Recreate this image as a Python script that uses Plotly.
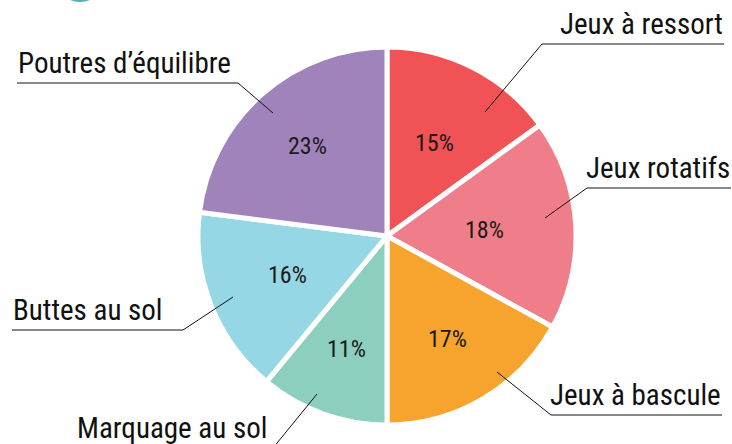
import math
import plotly.graph_objects as go

W, H = 732, 444

categories = ["Jeux à ressort", "Jeux rotatifs", "Jeux à bascule",
              "Marquage au sol", "Buttes au sol", "Poutres d’équilibre"]
values = [15, 18, 17, 11, 16, 23]
colors = ["#F05255", "#F07E8A", "#F6A42D", "#8DCFBE", "#95D7E5", "#A183BC"]

FONT = "Roboto Condensed, Liberation Sans Narrow, sans-serif"

def px(x, y):
    return x / W, 1 - y / H

cx, cy, R = 387, 236, 187
r_dom = R + 2

fig = go.Figure(go.Pie(
    labels=categories, values=values, sort=False, direction="clockwise",
    rotation=0, marker=dict(colors=colors, line=dict(color="white", width=5)),
    textinfo="none",
    domain=dict(x=[(cx - r_dom) / W, (cx + r_dom) / W],
                y=[(H - cy - r_dom) / H, (H - cy + r_dom) / H]),
    showlegend=False, hoverinfo="label+percent",
))

# percentage labels placed at each slice's mid-angle (computed from the data)
text_radius = [0.56, 0.52, 0.64, 0.64, 0.57, 0.64]
total = sum(values)
annotations = []
cum = 0
for v, tr in zip(values, text_radius):
    mid = (cum + v / 2) / total * 2 * math.pi
    cum += v
    x = cx + tr * R * math.sin(mid)
    y = cy - tr * R * math.cos(mid)
    p = px(x, y)
    annotations.append(dict(text=f"{round(v / total * 100)}%", xref="paper", yref="paper",
                            x=p[0], y=p[1], xanchor="center", yanchor="middle",
                            showarrow=False,
                            font=dict(family=FONT, size=24, color="#1a1a1a")))

# label layout: (text, side, underline y, underline x0, x1, leader end x, y)
label_layout = [
    ("Jeux à ressort", "right", 44, 542, 724, 485, 112),
    ("Jeux rotatifs", "right", 188, 587, 731, 545, 218),
    ("Jeux à bascule", "right", 415, 551, 722, 497, 372),
    ("Marquage au sol", "left", 448, 76, 273, 317, 394),
    ("Buttes au sol", "left", 330, 12, 183, 233, 297),
    ("Poutres d’équilibre", "left", 83, 17, 238, 273, 113),
]

shapes = []
for text, side, uy, x0, x1, lx, ly in label_layout:
    a = px(x0, uy)
    b = px(x1, uy)
    shapes.append(dict(type="line", xref="paper", yref="paper",
                       x0=a[0], y0=a[1], x1=b[0], y1=b[1],
                       line=dict(color="#111", width=1)))
    knee = x0 if side == "right" else x1
    k = px(knee, uy)
    e = px(lx, ly)
    shapes.append(dict(type="line", xref="paper", yref="paper",
                       x0=k[0], y0=k[1], x1=e[0], y1=e[1],
                       line=dict(color="#111", width=1)))
    if side == "right":
        tx, anchor = px(x1 + 1, uy - 1), "right"
    else:
        tx, anchor = px(x0 - 1, uy - 1), "left"
    annotations.append(dict(text=text, xref="paper", yref="paper",
                            x=tx[0], y=tx[1], xanchor=anchor, yanchor="bottom",
                            showarrow=False,
                            font=dict(family=FONT, size=29, color="#111")))

# decorative teal circle partially visible at top-left
c0 = px(54, -50)
c1 = px(106, 2)
shapes.append(dict(type="circle", xref="paper", yref="paper",
                   x0=c0[0], y0=c0[1], x1=c1[0], y1=c1[1],
                   fillcolor="#5AABB6", line=dict(width=0), layer="below"))

fig.update_layout(width=W, height=H, margin=dict(l=0, r=0, t=0, b=0),
                  paper_bgcolor="white", plot_bgcolor="white",
                  shapes=shapes, annotations=annotations)

fig.write_html("out.html", config={"displayModeBar": False},
               post_script="document.body.style.margin='0';document.body.style.overflow='hidden';")
